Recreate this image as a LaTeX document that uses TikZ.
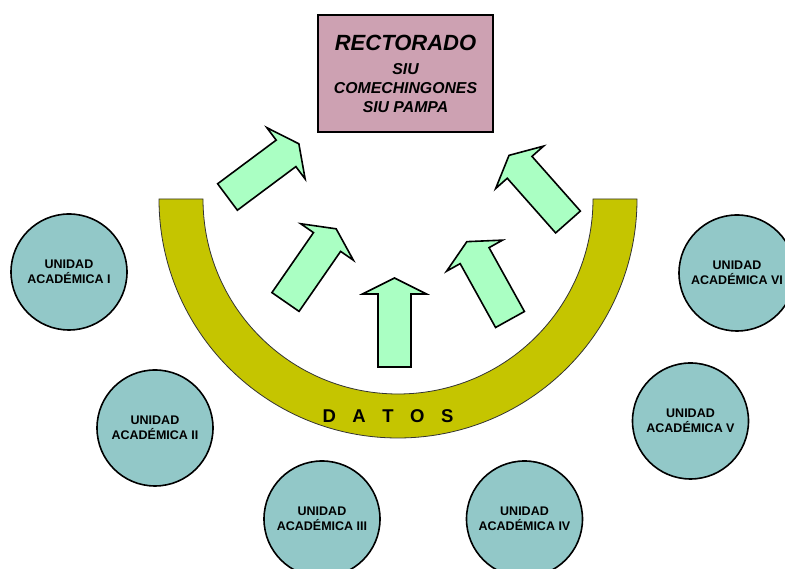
\documentclass[tikz,border=0pt]{standalone}
\usepackage{fontspec}
\setmainfont{Liberation Sans}
\definecolor{rectfill}{RGB}{205,161,178}
\definecolor{datosfill}{RGB}{197,197,0}
\definecolor{flechafill}{RGB}{170,255,195}
\definecolor{unidadfill}{RGB}{146,200,200}
\begin{document}
\begin{tikzpicture}[x=1pt, y=1pt,
  unidad/.style={circle, draw, line width=1.6pt, fill=unidadfill, minimum size=116pt, inner sep=0pt, align=center, font=\fontsize{12.5}{15}\selectfont\bfseries},
  flecha/.style={draw, line width=1.6pt, fill=flechafill, line join=miter}]
\useasboundingbox (0,0) rectangle (785,569);
\clip (0,0) rectangle (785,569);

% Rectorado box
\node[draw, line width=1.4pt, fill=rectfill, minimum width=175pt, minimum height=117pt, align=center, font=\fontsize{15.8}{19}\selectfont\bfseries\itshape] (rectorado) at (405.5,495.5) {{\fontsize{22}{24}\selectfont RECTORADO}\\[5pt] SIU\\ COMECHINGONES\\ SIU PAMPA};

% Datos band
\filldraw[fill=datosfill, draw=black!80, line width=0.8pt] (159,370) arc[start angle=180, end angle=360, radius=239] -- (593,370) arc[start angle=0, end angle=-180, radius=195] -- cycle;
\node[font={\fontsize{18.5}{20}\selectfont\bfseries\spaceskip=16.5pt\relax}, anchor=base] (datos) at (388,146) {D A T O S};

% Arrows towards the rectorado
\foreach \x/\y/\a in {227.5/372/36.7, 285.5/267/55.3, 394.5/202/90, 510/249.5/119, 568/347/131.5}
  \draw[flecha, shift={(\x,\y)}, rotate=\a] (0,-16.5) -- (73,-16.5) -- (73,-32) -- (89,0) -- (73,32) -- (73,16.5) -- (0,16.5) -- cycle;

% Unidades academicas
\node[unidad] (ua1) at (69,297) {UNIDAD\\ACADÉMICA I};
\node[unidad] (ua2) at (155,141) {UNIDAD\\ACADÉMICA II};
\node[unidad] (ua3) at (322,50) {UNIDAD\\ACADÉMICA III};
\node[unidad] (ua4) at (524.5,50) {UNIDAD\\ACADÉMICA IV};
\node[unidad] (ua5) at (690.5,148) {UNIDAD\\ACADÉMICA V};
\node[unidad] (ua6) at (737,296) {UNIDAD\\ACADÉMICA VI};
\end{tikzpicture}
\end{document}
